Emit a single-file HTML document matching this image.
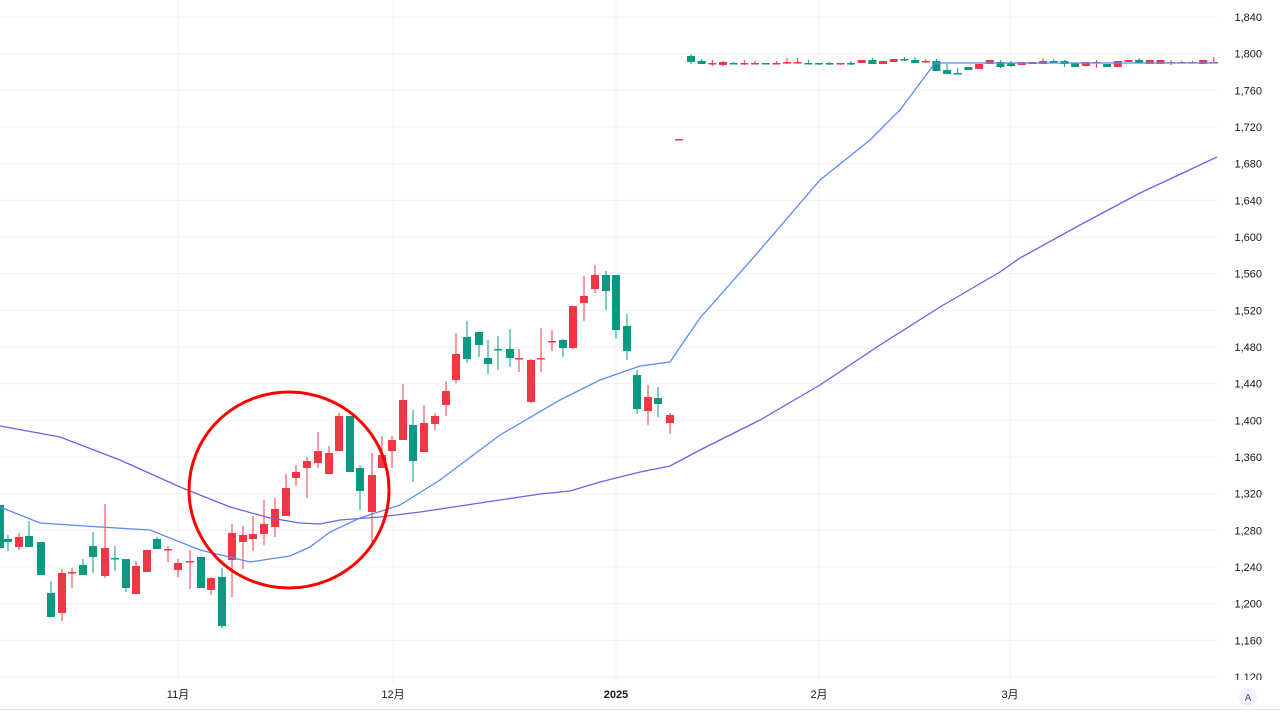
<!DOCTYPE html>
<html><head><meta charset="utf-8">
<style>
html,body{margin:0;padding:0;background:#fff;width:1280px;height:720px;overflow:hidden}
svg{display:block;font-family:"Liberation Sans","Noto Sans CJK SC",sans-serif}
</style></head>
<body>
<svg id="s" width="1280" height="720" xmlns="http://www.w3.org/2000/svg">
<defs><clipPath id="ax"><rect x="1225" y="0" width="55" height="680"/></clipPath></defs>
<rect width="1280" height="720" fill="#fff"/>
<g id="grid"></g>
<g id="candles"></g>
<polyline fill="none" stroke="#6a62ec" stroke-width="1.3" points="0,426 60,437 120,460 180,487 230,507 270,518 300,523 320,524 340,520 380,517 420,512 480,503 540,494 570,491 600,482 640,472 670,466 700,450 760,420 820,385 880,345 940,307 1000,272 1020,258 1080,225 1140,193 1217,157"/>
<polyline fill="none" stroke="#5b8af9" stroke-width="1.3" points="0,507 40,523 100,527 150,530 200,550 250,562 290,556 310,547 330,532 360,518 400,505 440,480 500,435 560,400 600,380 640,366 670,362 700,318 760,250 820,180 870,140 900,110 935,63 950,63 1215,63"/>
<ellipse cx="289" cy="490" rx="100" ry="98" fill="none" stroke="#f00" stroke-width="3"/>
<g id="yl" clip-path="url(#ax)" font-size="11" fill="#131722" text-anchor="end"></g>
<line x1="0" y1="709.5" x2="1280" y2="709.5" stroke="#e0e3eb"/>
<g font-size="11" fill="#131722" text-anchor="middle">
<text x="178" y="698">11月</text>
<text x="393" y="698">12月</text>
<text x="616" y="698" font-weight="bold">2025</text>
<text x="819" y="698">2月</text>
<text x="1010" y="698">3月</text>
</g>
<circle cx="1248" cy="697" r="9" fill="#f0f3fa"/>
<text x="1248" y="701" font-size="10" fill="#555" text-anchor="middle">A</text>
</svg>
<script>
(function(){
var NS="http://www.w3.org/2000/svg";
function el(p,t,a){var e=document.createElementNS(NS,t);for(var k in a)e.setAttribute(k,a[k]);p.appendChild(e);return e;}
var g=document.getElementById('grid'),yl=document.getElementById('yl');
for(var i=0;i<=18;i++){var v=1840-40*i,y=17+i*36.667;
el(g,'line',{x1:0,x2:1218,y1:y,y2:y,stroke:'#f2f3f6'});
var t=el(yl,'text',{x:1262,y:y+4});t.textContent=(v+'').replace(/(\d)(\d{3})$/,'$1,$2');}
[178,393,616,819,1010].forEach(function(x){el(g,'line',{x1:x,x2:x,y1:0,y2:683,stroke:'#f2f3f6'});});
var R='#f23645',G='#089981';
var C=[[0,505,548,505,548,G],[8,539,542,535,551,G],[19,537,547,533,550,R],[29,536,547,521,547,G],[41,542,575,542,575,G],[51,593,617,581,617,G],[62,573,613,569,621,R],[72,572,573,568,588,R],[83,565,575,559,575,G],[93,546,557,532,573,G],[105,548,576,504,578,R],[115,558,559,546,571,G],[126,559,588,559,592,G],[136,566,594,561,594,R],[147,550,572,550,572,R],[157,539,549,537,549,G],[168,549,550,546,562,R],[178,563,570,559,577,R],[190,561,562,550,589,R],[201,557,588,557,588,G],[211,578,590,577,595,R],[222,577,626,568,628,G],
[232,533,560,524,597,R],[243,535,542,526,569,R],[253,534,539,516,551,R],[264,524,534,500,545,R],[275,509,527,498,537,R],[286,488,516,474,516,R],[296,472,478,465,486,R],[307,461,468,457,498,R],[318,451,463,432,468,R],[329,453,474,446,474,R],[339,416,451,413,451,R],[350,416,472,416,472,G],[360,468,491,465,510,G],[372,475,512,453,545,R],[382,455,468,436,468,R],[392,440,451,436,468,R],[403,400,440,384,440,R],[413,425,461,410,482,G],[424,423,452,405,452,R],[435,416,424,413,430,R],[446,391,405,381,416,R],[456,354,380,333,383,R],[467,337,359,321,363,G],[479,332,345,332,357,G],[488,358,364,340,374,G],[498,349,350,336,370,G],[510,349,358,329,367,G],[519,358,359,349,372,R],[531,360,402,359,403,R],[541,358,359,328,372,R],[552,341,342,330,351,R],[563,340,348,339,357,G],[573,306,348,306,349,R],[584,296,303,276,321,R],[595,275,289,265,293,R],[606,275,291,271,310,G],[616,275,330,275,339,G],[627,326,351,314,360,G],[637,375,409,370,414,G],[648,397,411,385,425,R],[658,398,404,387,417,G],[670,415,423,413,434,R],[679,139,140,139,140,R]];
var topC=[[56,62,54,64,G],[61,64,59,64,G],[63,64,60,66,R],[62,65,61,66,R],[63,64,62,64,G],[63,64,60,65,R],[63,64,61,64,R],[63,64,63,64,G],[63,64,61,64,R],[62,63,58,64,R],[62,63,58,64,R],[63,64,60,64,G],[63,64,63,65,G],[63,64,62,65,G],[63,64,63,65,R],[63,64,61,65,G],[60,63,60,63,R],[60,64,58,64,G],[61,64,61,64,R],[59,62,59,62,R],[59,60,57,61,G],[60,63,57,63,G],[61,62,59,63,R],[61,71,59,71,G],[70,74,64,74,G],[73,74,68,74,G],[67,70,67,70,G],[64,69,64,69,R],[60,64,60,64,R],[62,67,60,68,G],[63,66,61,67,G],[62,65,62,65,R],[62,64,62,64,R],[61,64,58,64,R],[61,62,59,63,G],[61,64,60,67,G],[63,67,63,67,G],[62,66,62,66,R],[62,63,60,68,R],[64,67,64,67,G],[61,67,61,67,R],[60,62,60,62,R],[60,63,58,63,G],[60,64,60,64,R],[60,64,60,64,R],[62,63,60,65,R],[62,63,61,63,R],[62,63,61,63,R],[60,64,60,64,R],[62,63,57,63,R]];
topC.forEach(function(c,i){C.push([691+i*10.67,c[0],c[1],c[2],c[3],c[4]]);});
var cg=document.getElementById('candles');
C.forEach(function(c){var x=c[0],bt=Math.min(c[1],c[2]),bb=Math.max(c[1],c[2]);
el(cg,'line',{x1:x,x2:x,y1:c[3],y2:c[4],stroke:c[5],'stroke-width':1});
el(cg,'rect',{x:x-4,y:bt,width:8,height:Math.max(1.5,bb-bt),fill:c[5]});});
})();
</script>
</body></html>
